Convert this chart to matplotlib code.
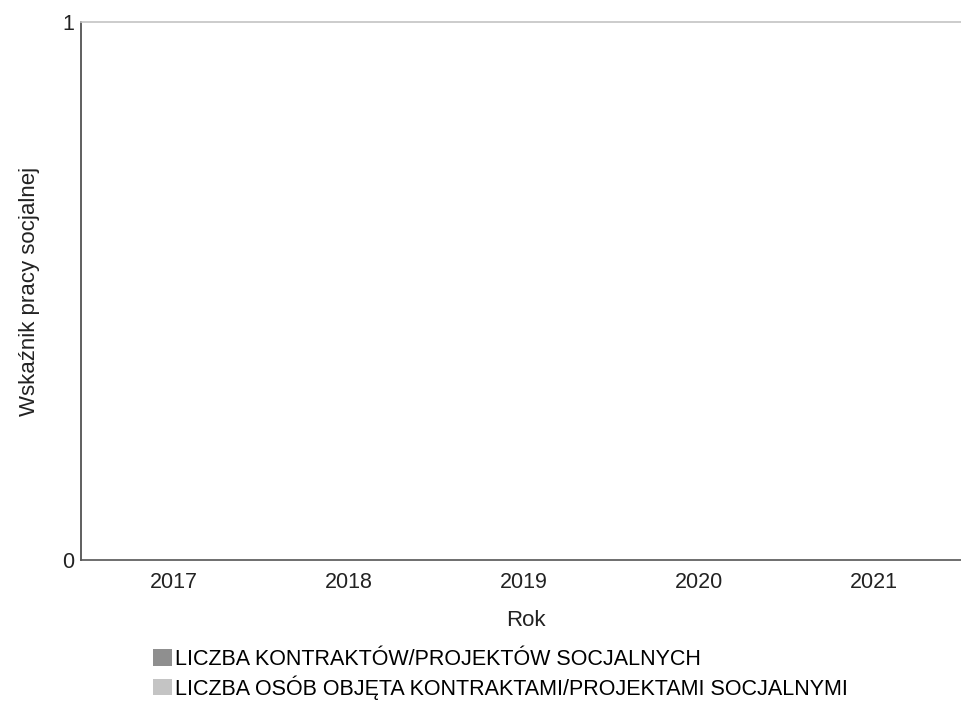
import matplotlib
matplotlib.use("Agg")
import matplotlib.pyplot as plt
import numpy as np

plt.rcParams['font.family'] = ['Liberation Sans', 'DejaVu Sans']

years = ["2017", "2018", "2019", "2020", "2021"]
kontrakty = [0, 0, 0, 0, 0]
osoby = [0, 0, 0, 0, 0]
series_names = ["LICZBA KONTRAKTÓW/PROJEKTÓW SOCJALNYCH",
                "LICZBA OSÓB OBJĘTA KONTRAKTAMI/PROJEKTAMI SOCJALNYMI"]

fig = plt.figure(figsize=(9.61, 7.01), dpi=100)
ax = fig.add_axes([81/961, 141/701, 1 - 81/961 + 0.01, (560-22)/701])

x = np.arange(len(years))
w = 0.35
b1 = ax.bar(x - w/2, kontrakty, w, color="#8f8f8f", label=series_names[0])
b2 = ax.bar(x + w/2, osoby, w, color="#c4c4c4", label=series_names[1])

ax.set_xlim(-0.53, 4.55)
ax.set_ylim(0, 1)
ax.set_yticks([0, 1])
ax.set_yticklabels(["0", "1"])
ax.set_xticks(x)
ax.set_xticklabels(years)
ax.tick_params(axis='both', length=0, labelsize=15.5, colors="#222222")
ax.tick_params(axis='y', pad=5)
ax.tick_params(axis='x', pad=9)

ax.spines['right'].set_visible(False)
ax.spines['top'].set_color("#c4c4c4")
ax.spines['left'].set_color("#444444")
ax.spines['bottom'].set_color("#555555")
for s in ax.spines.values():
    s.set_linewidth(1.2)

ax.set_xlabel("Rok", fontsize=16, color="#222222", labelpad=12)
ax.set_ylabel("Wskaźnik pracy socjalnej", fontsize=16, color="#222222", labelpad=16)

fig.legend(handles=[b1, b2], labels=series_names, loc="upper left",
           bbox_to_anchor=(142/961, 1 - 638/701), frameon=False,
           fontsize=15.5, handlelength=0.9, handleheight=0.8,
           handletextpad=0.15, labelspacing=0.25, borderpad=0)

fig.savefig("out.png", dpi=100)
